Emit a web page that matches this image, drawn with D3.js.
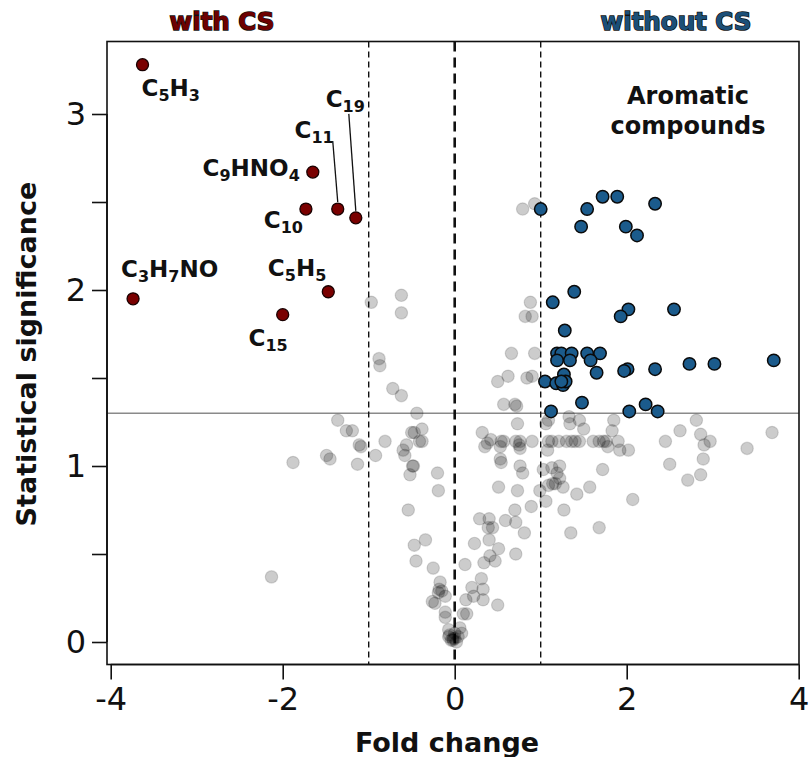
<!DOCTYPE html>
<html>
<head>
<meta charset="utf-8">
<script src="https://cdn.jsdelivr.net/npm/d3@7"></script>
<style>
  html, body { margin: 0; padding: 0; background: #fff; }
  svg { display: block; font-family: "DejaVu Sans", sans-serif; }
</style>
</head>
<body>
<svg id="chart" width="809" height="757"></svg>
<script>
// Volcano plot: fold change vs. statistical significance (-log10 p)

// Compounds enriched with CS (labelled, dark red)
const withCSNames = ["C5H3", "C9HNO4", "C10", "C11", "C19", "C3H7NO", "C5H5", "C15"];
const withCSFold  = [-3.63, -1.65, -1.73, -1.36, -1.15, -3.74, -1.47, -2.00];
const withCSSig   = [3.28, 2.67, 2.46, 2.46, 2.41, 1.95, 1.99, 1.86];

// Aromatic compounds enriched without CS (blue)
const withoutCSFold = [1.72, 1.89, 1.00, 1.54, 2.33, 1.47, 1.99, 2.12, 1.39, 1.14,
  2.02, 1.93, 2.55, 1.28, 1.19, 1.24, 1.36, 1.54, 1.69, 1.19,
  1.34, 1.58, 2.73, 3.02, 3.71, 1.27, 1.65, 2.01, 1.97, 2.33,
  1.05, 1.18, 1.26, 1.29, 1.24, 1.48, 2.22, 1.12, 2.03, 2.36];
const withoutCSSig = [2.53, 2.53, 2.46, 2.46, 2.49, 2.36, 2.36, 2.31, 1.99, 1.93,
  1.89, 1.85, 1.89, 1.77, 1.64, 1.64, 1.64, 1.64, 1.64, 1.60,
  1.60, 1.60, 1.58, 1.58, 1.60, 1.52, 1.53, 1.55, 1.54, 1.55,
  1.48, 1.47, 1.46, 1.48, 1.48, 1.36, 1.35, 1.31, 1.31, 1.31];

// Non-significant compounds (grey)
const otherFold = [-2.13, -1.88, -1.49, -1.45, -1.36, -1.26, -1.19, -1.09, -1.11, -1.13,
  -0.92, -0.81, -0.44, -0.38, -0.50, -0.47, -0.41, -0.38, -0.56, -0.60,
  -0.58, -0.49, -0.48, -0.52, -0.20, -0.19, -0.54, -0.34, -0.47, -0.45,
  -0.25, -0.17, -0.18, -0.19, -0.11, -0.26, -0.23, -0.11, -0.11, -0.07,
  -0.06, -0.02, -0.07, -0.97, -0.62, -0.62, -0.88, -0.87, -0.72, -0.62,
  0.79, 0.93, 0.88, 0.82, 0.90, 0.66, 0.93, 0.62, 0.50, 0.84,
  0.90, 0.57, 0.70, 0.72, 0.73, 0.32, 0.42, 0.38, 0.35, 0.54,
  0.57, 0.71, 0.76, 0.75, 0.76, 0.90, 0.53, 1.09, 1.13, 1.08,
  1.06, 1.09, 1.33, 1.34, 1.45, 1.50, 1.21, 1.30, 1.36, 1.40,
  1.45, 1.61, 1.68, 1.73, 1.76, 1.78, 1.85, 1.83, 1.90, 1.92,
  2.02, 2.45, 2.62, 2.81, 2.86, 2.90, 2.97, 3.40, 3.69, 2.89,
  2.50, 2.71, 2.86, 1.72, 2.07, 1.57, 1.42, 1.68, 1.35, 1.27,
  1.06, 0.99, 1.03, 1.13, 1.22, 1.19, 1.22, 1.17, 1.14, 1.09,
  1.26, 0.53, 0.54, 0.76, 0.79, 0.51, 0.73, 0.89, 0.70, 0.29,
  0.40, 0.39, 0.44, 0.59, 0.71, 0.81, 0.23, 0.40, 0.51, 0.71,
  0.41, 0.47, 0.34, 0.12, 0.31, 0.20, 0.33, 0.22, 0.33, 0.50,
  0.13, 0.14, 0.10, 0.06, 0.08, 0.00, 0.02, -0.02, -0.15, 0.00,
  0.04, -0.04];
const otherSig = [0.37, 1.02, 1.06, 1.04, 1.26, 1.20, 1.20, 1.11, 1.12, 1.01,
  1.06, 1.14, 1.30, 1.21, 1.19, 1.19, 1.14, 1.14, 1.12, 1.09,
  1.06, 1.00, 1.00, 0.95, 0.96, 0.86, 0.75, 0.58, 0.55, 0.46,
  0.42, 0.34, 0.30, 0.28, 0.26, 0.23, 0.22, 0.17, 0.14, 0.07,
  0.04, 0.02, 0.03, 1.93, 1.97, 1.87, 1.61, 1.57, 1.44, 1.40,
  2.46, 2.49, 1.93, 1.85, 1.85, 1.64, 1.64, 1.51, 1.48, 1.50,
  1.51, 1.35, 1.35, 1.34, 1.24, 1.19, 1.15, 1.13, 1.11, 1.14,
  1.14, 1.14, 1.14, 1.12, 1.10, 1.14, 1.11, 1.14, 1.14, 1.09,
  1.24, 1.26, 1.28, 1.24, 1.26, 1.21, 1.14, 1.14, 1.14, 1.14,
  1.14, 1.14, 1.14, 1.14, 1.14, 1.11, 1.26, 1.20, 1.14, 1.09,
  1.09, 1.14, 1.20, 1.26, 1.18, 1.12, 1.14, 1.10, 1.19, 1.04,
  1.01, 0.92, 0.95, 0.98, 0.81, 0.88, 0.84, 0.65, 0.62, 0.75,
  0.80, 0.86, 0.98, 0.99, 1.00, 0.96, 0.93, 0.90, 0.90, 0.89,
  0.88, 1.04, 1.02, 1.00, 0.96, 0.88, 0.86, 0.77, 0.75, 0.70,
  0.70, 0.65, 0.65, 0.69, 0.68, 0.62, 0.56, 0.58, 0.53, 0.50,
  0.49, 0.46, 0.45, 0.44, 0.36, 0.31, 0.30, 0.26, 0.24, 0.21,
  0.24, 0.16, 0.16, 0.08, 0.05, 0.02, 0.00, 0.01, 0.29, 0.05,
  0.03, 0.01];

const xTicks = [-4, -2, 0, 2, 4];
const yTicks = [0, 0.5, 1, 1.5, 2, 2.5, 3];
const yTickLabels = ["0", "", "1", "", "2", "", "3"];
const foldCutoffs = [-1, 1];
const sigCutoff = 1.30;

// Label placement for the dark red compounds (offsets from the point, px)
const labelLayout = {
  "C5H3":   { dx: -1,  dy: 31,  anchor: "start" },
  "C9HNO4": { dx: -13, dy: 4,   anchor: "end" },
  "C10":    { dx: -3,  dy: 19,  anchor: "end" },
  "C11":    { dx: -4,  dy: -71, anchor: "end", leader: [-5, -68, 0, -7] },
  "C19":    { dx: 9,   dy: -111, anchor: "end", leader: [-7, -104, 0, -7] },
  "C3H7NO": { dx: -12, dy: -22, anchor: "start" },
  "C5H5":   { dx: -2,  dy: -16, anchor: "end" },
  "C15":    { dx: 5,   dy: 31,  anchor: "end" }
};

const svg = d3.select("#chart");
const frame = { left: 107, right: 799, top: 41.5, bottom: 664.5 };

const x = d3.scaleLinear().domain([-4, 4]).range([110.7, 798.7]);
const y = d3.scaleLinear().domain([0, 3]).range([642, 114]);

// Reference lines
svg.append("line")
  .attr("x1", frame.left).attr("x2", frame.right)
  .attr("y1", y(sigCutoff)).attr("y2", y(sigCutoff))
  .attr("stroke", "#8a8a8a").attr("stroke-width", 1.6);

svg.selectAll("line.cut").data(foldCutoffs).join("line")
  .attr("class", "cut")
  .attr("x1", d => x(d)).attr("x2", d => x(d))
  .attr("y1", frame.top).attr("y2", frame.bottom)
  .attr("stroke", "#111").attr("stroke-width", 1.4)
  .attr("stroke-dasharray", "6,4");

svg.append("line")
  .attr("x1", x(0)).attr("x2", x(0))
  .attr("y1", frame.top).attr("y2", frame.bottom)
  .attr("stroke", "#111").attr("stroke-width", 2.6)
  .attr("stroke-dasharray", "10,6");

// Grey (non-significant) points
const others = otherFold.map((f, i) => ({ f, s: otherSig[i] }));
svg.append("g").selectAll("circle").data(others).join("circle")
  .attr("cx", d => x(d.f)).attr("cy", d => y(d.s)).attr("r", 6.2)
  .attr("fill", "rgba(0,0,0,0.2)")
  .attr("stroke", "rgba(0,0,0,0.14)").attr("stroke-width", 1.2);

// Blue points
const blue = withoutCSFold.map((f, i) => ({ f, s: withoutCSSig[i] }));
svg.append("g").selectAll("circle").data(blue).join("circle")
  .attr("cx", d => x(d.f)).attr("cy", d => y(d.s)).attr("r", 6.2)
  .attr("fill", "#1b5b8c")
  .attr("stroke", "#0a0a0a").attr("stroke-width", 1.5);

// Dark red points with labels
const red = withCSNames.map((n, i) => ({ n, f: withCSFold[i], s: withCSSig[i] }));
svg.append("g").selectAll("circle").data(red).join("circle")
  .attr("cx", d => x(d.f)).attr("cy", d => y(d.s)).attr("r", 6)
  .attr("fill", "#7a0000")
  .attr("stroke", "#1a0000").attr("stroke-width", 1.3);

const labels = svg.append("g").attr("font-weight", "bold").attr("fill", "#111");
red.forEach(d => {
  const L = labelLayout[d.n];
  const px = x(d.f), py = y(d.s);
  if (L.leader) {
    svg.append("line")
      .attr("x1", px + L.leader[0]).attr("y1", py + L.leader[1])
      .attr("x2", px + L.leader[2]).attr("y2", py + L.leader[3])
      .attr("stroke", "#111").attr("stroke-width", 1.3);
  }
  const t = labels.append("text")
    .attr("x", px + L.dx).attr("y", py + L.dy)
    .attr("text-anchor", L.anchor)
    .attr("font-size", 23);
  // split formula into element symbols and subscript counts
  const parts = d.n.match(/[A-Z][a-z]?|\d+/g);
  let lowered = false;
  parts.forEach(p => {
    const isNum = /^\d+$/.test(p);
    const ts = t.append("tspan").text(p);
    if (isNum) {
      ts.attr("font-size", 16).attr("dy", lowered ? 0 : 5);
      lowered = true;
    } else {
      if (lowered) ts.attr("dy", -5);
      lowered = false;
    }
  });
});

// Frame
svg.append("rect")
  .attr("x", frame.left).attr("y", frame.top)
  .attr("width", frame.right - frame.left).attr("height", frame.bottom - frame.top)
  .attr("fill", "none").attr("stroke", "#111").attr("stroke-width", 1.6);

// Axes
const xAxis = svg.append("g")
  .attr("transform", `translate(0,${frame.bottom})`)
  .call(d3.axisBottom(x).tickValues(xTicks).tickSize(15).tickPadding(8));
xAxis.select(".domain").attr("stroke", "#111").attr("stroke-width", 1.6)
  .attr("d", `M${x(-4)},0H${x(4)}`);
xAxis.selectAll(".tick line").attr("stroke", "#111").attr("stroke-width", 1.6);
xAxis.selectAll(".tick text")
  .attr("font-family", "DejaVu Sans").attr("font-size", 32).attr("fill", "#111")
  .text(d => d < 0 ? "-" + Math.abs(d) : String(d));

const yAxis = svg.append("g")
  .attr("transform", `translate(${frame.left},0)`)
  .call(d3.axisLeft(y).tickValues(yTicks).tickSize(15).tickPadding(6)
    .tickFormat((d, i) => yTickLabels[i]));
yAxis.select(".domain").attr("stroke", "#111").attr("stroke-width", 1.6)
  .attr("d", `M0,${y(0)}V${y(3)}`);
yAxis.selectAll(".tick line").attr("stroke", "#111").attr("stroke-width", 1.6);
yAxis.selectAll(".tick text")
  .attr("font-family", "DejaVu Sans").attr("font-size", 32).attr("fill", "#111");

// Axis titles
svg.append("text")
  .attr("x", 447).attr("y", 752)
  .attr("text-anchor", "middle").attr("font-weight", "bold").attr("font-size", 27)
  .attr("fill", "#111").text("Fold change");

svg.append("text")
  .attr("transform", "translate(36,354) rotate(-90)")
  .attr("text-anchor", "middle").attr("font-weight", "bold").attr("font-size", 27)
  .attr("fill", "#111").text("Statistical significance");

// Group headers
svg.append("text")
  .attr("x", 222).attr("y", 30)
  .attr("text-anchor", "middle").attr("font-weight", "bold").attr("font-size", 24.5)
  .attr("fill", "#6e0000").attr("stroke", "#111").attr("stroke-width", 1.5)
  .attr("paint-order", "stroke").text("with CS");

svg.append("text")
  .attr("x", 676).attr("y", 30)
  .attr("text-anchor", "middle").attr("font-weight", "bold").attr("font-size", 24.5)
  .attr("fill", "#1b4f78").attr("stroke", "#111").attr("stroke-width", 1.5)
  .attr("paint-order", "stroke").text("without CS");

// Annotation
const ann = svg.append("text")
  .attr("text-anchor", "middle").attr("font-weight", "bold").attr("font-size", 24)
  .attr("fill", "#111");
ann.append("tspan").attr("x", 688).attr("y", 104).text("Aromatic");
ann.append("tspan").attr("x", 688).attr("y", 134).text("compounds");
</script>
</body>
</html>
